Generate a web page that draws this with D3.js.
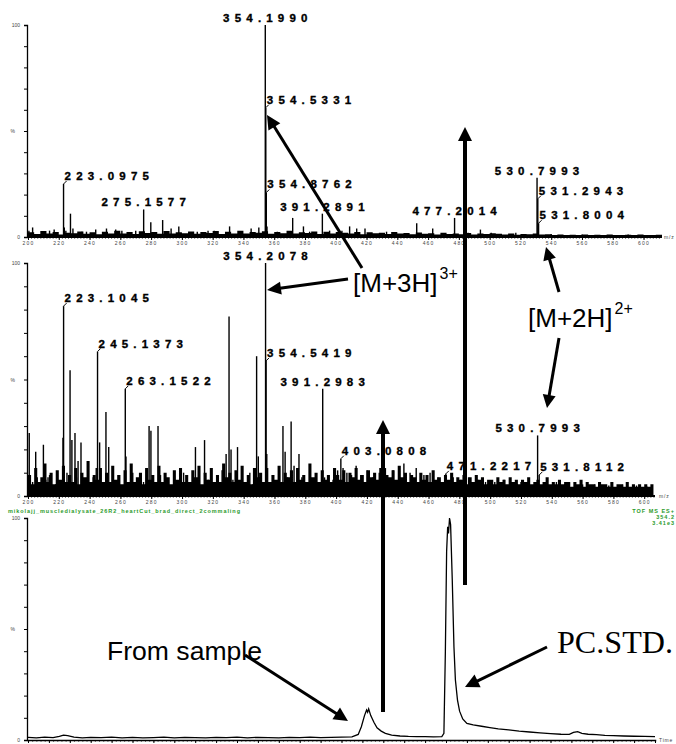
<!DOCTYPE html>
<html>
<head>
<meta charset="utf-8">
<script src="https://cdn.jsdelivr.net/npm/d3@7"></script>
<style>
  body { margin: 0; background: #fff; }
  svg { display: block; font-family: "Liberation Sans", Arial, sans-serif; }
</style>
</head>
<body>
<svg id="chart" width="676" height="744"></svg>
<script>
// ---- top spectrum (m/z, % intensity) ----
const topPeaks = [
  [200.6, 3], [203, 4.5], [210, 2.5], [214, 3], [217, 3.5],
  [223.0975, 25], [223.6, 4.5], [224.6, 3], [227.6, 11], [229.2, 4],
  [235, 2.5], [238, 2.5], [244, 3.5], [251, 4], [257, 3.5], [261, 3],
  [270, 3], [275.1577, 13], [279.8, 7], [287.5, 8], [293, 4], [298, 5],
  [310, 2.5], [317, 3], [321, 3], [331, 5], [345, 4], [350, 4.5],
  [354.1990, 100], [354.5331, 61], [354.8762, 21], [355.3, 5],
  [362, 2.5], [372, 9], [379, 5], [383, 2.5], [391.2891, 11], [396, 3],
  [404, 3], [409, 5], [413.6, 4], [419, 4], [433, 2.5], [452.6, 6.5],
  [463, 4], [477.2014, 9], [486, 2], [494, 3.5], [501, 2], [517, 2],
  [530.7993, 28], [531.2943, 18], [531.8004, 6.5], [540, 1.4], [560, 1.2], [590, 1.2]
];
const topNoiseStart = 200, topNoiseStep = 4;
const topNoise = [
  2.2, 1.4, 2.8, 1.6, 2.4, 1.2, 2.0, 1.8, 2.6, 1.5, 2.2, 1.3, 2.5, 1.7, 2.9, 1.6, 2.3, 1.4, 2.7, 1.9, 2.4, 1.5, 2.8, 1.6, 2.2, 1.8,
  2.6, 1.5, 2.3, 1.9, 2.8, 1.4, 2.5, 1.7, 3.0, 1.6, 2.4, 2.0, 2.7, 1.5, 2.3, 1.8, 2.9, 1.6, 2.2, 1.9, 2.6, 1.4, 2.5, 1.7, 2.3,
  2.0, 1.6, 2.4, 1.3, 2.2, 1.8, 2.0, 1.4, 2.3, 1.6, 1.9, 1.3, 2.1, 1.5, 1.8, 1.2, 2.0, 1.4, 1.7, 1.3, 1.9, 1.2, 1.6, 1.4, 1.8,
  1.5, 1.2, 1.6, 1.1, 1.4, 1.3, 1.7, 1.2, 1.3, 1.0, 1.2, 0.9, 1.1, 1.0, 1.2, 0.9, 1.1, 1.0, 1.2, 0.9, 1.0, 1.1, 0.9, 1.2, 1.0, 0.9, 1.1, 1.0
];
const topLabels = ["223.0975", "275.1577", "354.1990", "354.5331", "354.8762",
  "391.2891", "477.2014", "530.7993", "531.2943", "531.8004"];

// ---- middle spectrum ----
const midPeaks = [
  [200.8, 27], [203, 6], [205, 19], [206, 8], [210, 22], [211.5, 7], [213, 8], [214, 9], [218, 5],
  [222.7, 25], [223.1045, 81.5], [225.3, 10], [226.5, 9], [227.3, 54], [228.5, 24], [230.5, 27],
  [231.5, 8], [232.5, 15], [234.4, 23], [238, 4], [242.3, 8], [244.3, 12], [245.1373, 62],
  [246.5, 23], [248, 6], [250.6, 36], [252.4, 21], [254, 6], [256, 5], [258.6, 9],
  [263.1522, 46], [263.6, 17], [265, 6], [268, 10], [272, 5], [275, 6], [278.6, 30], [279.8, 28],
  [284.4, 30], [286, 9], [290, 5], [296, 6], [301, 10], [303, 5], [308.7, 21], [311, 8],
  [314.6, 24], [317, 7], [322, 5], [326, 11], [328.6, 18], [330.5, 77], [331.8, 20], [333, 7],
  [336, 21], [340, 6], [344, 10], [346, 5], [348.4, 60], [349.5, 17], [352, 6],
  [354.2078, 100], [354.5419, 58], [355, 18], [357, 6], [360, 5], [363, 8], [365.5, 30],
  [366.9, 19], [368.5, 8], [370.8, 32], [372.7, 13], [375.9, 18], [377.8, 8], [381, 6],
  [385, 6], [389, 5], [391.2983, 46], [392.5, 8], [396, 6], [398, 7], [401, 11],
  [403.0808, 16], [404.5, 12], [407, 10], [410, 9], [413, 13], [416, 9], [420, 11], [424, 8],
  [428, 10], [432, 12], [437, 11], [441, 9], [444, 14], [448, 10], [452, 12], [457, 9],
  [461, 10], [466, 8], [471.2217, 9.5], [476, 8], [481, 7], [486, 8], [492, 7], [497, 6],
  [503, 6], [509, 7], [514, 6], [520, 6], [525, 5], [530.7993, 26], [531.8112, 9],
  [536, 5], [543, 6], [551, 5], [560, 5], [568, 5], [577, 4.5], [586, 5], [595, 4.5], [602, 4]
];
const midNoiseStart = 200, midNoiseStep = 2;
const midNoise = [
  9, 5, 12, 6, 8, 14, 6, 10, 5, 11, 7, 13, 6, 9, 6, 12, 5, 10, 8, 15, 6, 9, 7, 12, 6,
  10, 6, 13, 7, 9, 5, 11, 6, 14, 6, 8, 10, 5, 12, 7, 9, 6, 13, 6, 10, 8, 5, 11, 7, 12,
  6, 9, 6, 11, 8, 13, 5, 10, 7, 12, 6, 9, 6, 14, 8, 10, 6, 11, 7, 13, 6, 9, 5, 12, 8,
  10, 6, 12, 6, 9, 7, 13, 6, 10, 8, 11, 6, 12, 7, 9, 6, 14, 8, 10, 6, 11, 7, 9, 6, 12,
  9, 7, 11, 6, 10, 8, 12, 7, 9, 6, 11, 8, 10, 7, 12, 6, 9, 8, 11, 7, 13, 8, 10, 6, 9,
  8, 6, 10, 7, 9, 6, 11, 7, 8, 6, 9, 7, 10, 6, 8, 7, 9, 5, 8, 6, 9, 7, 8, 5, 7,
  7, 5, 8, 6, 7, 5, 8, 6, 7, 5, 7, 6, 8, 5, 6, 7, 5, 6, 8, 5, 6, 5, 7, 5, 6,
  6, 4, 6, 5, 7, 4, 6, 5, 5, 4, 6, 5, 5, 4, 6, 4, 5, 5, 4, 6, 4, 5, 4, 5, 4, 5, 4, 5, 4
];
const midLabels = ["223.1045", "245.1373", "263.1522", "354.2078", "354.5419",
  "391.2983", "403.0808", "471.2217", "530.7993", "531.8112"];

// ---- chromatogram (time, % intensity) ----
const chromatogram = [
  [0.0, 1.2], [0.4, 1.0], [0.8, 1.3], [1.2, 1.1], [1.5, 1.6], [1.7, 2.2], [1.9, 2.0], [2.2, 1.3],
  [2.6, 1.0], [3.0, 1.2], [3.5, 1.1], [4.0, 1.3], [4.5, 1.0], [5.0, 1.2], [5.5, 1.0], [6.0, 1.1],
  [6.5, 1.3], [7.0, 1.0], [7.5, 1.2], [8.0, 1.1], [8.5, 1.0], [9.0, 1.2], [9.5, 1.1], [10.0, 1.3],
  [10.5, 1.0], [11.0, 1.2], [11.5, 1.1], [12.0, 1.0], [12.5, 1.2], [13.0, 1.1], [13.5, 1.3],
  [14.0, 1.1], [14.5, 1.2], [15.0, 1.3], [15.5, 1.4], [15.8, 2.5], [15.95, 6], [16.1, 11],
  [16.2, 13.5], [16.25, 12.5], [16.3, 14], [16.4, 11], [16.55, 8], [16.7, 5.5], [16.9, 4],
  [17.1, 3], [17.4, 2.2], [17.8, 1.8], [18.2, 1.6], [18.6, 1.5], [19.0, 1.5], [19.4, 1.4],
  [19.8, 1.5], [19.9, 3], [19.97, 40], [20.03, 85], [20.08, 96], [20.12, 93], [20.17, 100],
  [20.22, 97], [20.3, 72], [20.38, 42], [20.45, 27], [20.55, 18], [20.65, 13], [20.8, 9.5],
  [21.0, 7.5], [21.3, 6.8], [21.7, 6.2], [22.1, 5.6], [22.5, 5.0], [23.0, 4.6], [23.5, 4.0],
  [24.0, 3.6], [24.5, 3.2], [25.0, 2.9], [25.5, 2.6], [25.9, 2.5], [26.1, 3.4], [26.3, 3.8],
  [26.5, 3.0], [26.8, 2.6], [27.2, 2.4], [27.6, 2.1], [28.0, 2.0], [28.5, 1.8], [29.0, 1.7],
  [29.5, 1.6], [30.0, 1.5]
];

const fileTitle = "mikolajj_muscledialysate_26R2_heartCut_brad_direct_2commaling";
const traceInfo = ["TOF MS ES+", "354.2", "3.41e3"];

// labels drawn centred over their peak (others sit to the right with a small leader)
const centred = new Set(["275.1577", "354.1990", "391.2891", "477.2014", "530.7993",
  "354.2078", "391.2983"]);

const svg = d3.select("#chart");
const tickFont = 5;

function yAxis(g, y, x0) {
  const ax = g.append("g")
    .attr("transform", `translate(${x0},0)`)
    .call(d3.axisLeft(y).tickValues(d3.range(0, 101, 10)).tickSize(3)
      .tickFormat((d) => (d === 100 ? "100" : d === 50 ? "%" : d === 0 ? "0" : "")));
  ax.select(".domain").attr("stroke-width", 1.3);
  ax.selectAll("text").attr("font-size", tickFont).attr("fill", "#444").attr("dx", "-1");
  ax.selectAll(".tick").filter((d) => d === 50).select("text").attr("dx", "-6");
  return ax;
}

function spectrum(p) {
  const g = svg.append("g");
  const x = d3.scaleLinear().domain(p.domain).range([p.x0, p.x1]);
  const y = d3.scaleLinear().domain([0, 100]).range([p.base, p.top]);

  // noise forest
  const area = d3.area()
    .curve(d3.curveStepAfter)
    .x((d, i) => x(p.noiseStart + i * p.noiseStep))
    .y0(p.base)
    .y1((d) => y(d));
  g.append("path").datum(p.noise).attr("d", area).attr("fill", "#000");

  // peaks
  g.selectAll("line.peak").data(p.peaks).enter().append("line")
    .attr("class", "peak")
    .attr("x1", (d) => x(d[0])).attr("x2", (d) => x(d[0]))
    .attr("y1", p.base).attr("y2", (d) => y(d[1]))
    .attr("stroke", "#000").attr("stroke-width", 1.4);

  // x axis
  const minor = g.append("g").attr("transform", `translate(0,${p.base})`)
    .call(d3.axisBottom(x).tickValues(d3.range(200, p.domain[1], 2)).tickSize(1.5).tickFormat(""));
  minor.select(".domain").remove();
  const ax = g.append("g").attr("transform", `translate(0,${p.base})`)
    .call(d3.axisBottom(x).tickValues(d3.range(200, 601, 20)).tickSize(3).tickPadding(1));
  ax.select(".domain").attr("stroke-width", 2).attr("d", `M${p.x0},0H${p.x1}`);
  ax.selectAll("text").attr("font-size", tickFont).attr("fill", "#444")
    .attr("letter-spacing", 1.2).attr("font-family", "Liberation Sans");
  g.append("text").attr("x", p.unitX).attr("y", p.base + 2)
    .attr("font-size", tickFont).attr("letter-spacing", 0.8).attr("fill", "#444").text("m/z");

  yAxis(g, y, p.x0 - 1);

  // peak labels
  const ls = 5.2;
  p.labels.forEach((lab) => {
    const mz = +lab;
    const pk = p.peaks.find((d) => d[0] === mz);
    const px = x(mz), py = y(pk[1]);
    const t = g.append("text")
      .attr("font-size", 11.5).attr("font-weight", "bold")
      .attr("stroke", "#000").attr("stroke-width", 0.35)
      .attr("letter-spacing", ls).attr("fill", "#000").text(lab);
    if (centred.has(lab)) {
      t.attr("x", px + ls / 2).attr("y", py - 3).attr("text-anchor", "middle");
    } else {
      g.append("path").attr("d", `M${px},${py}L${px + 3},${py - 3}`)
        .attr("stroke", "#000").attr("stroke-width", 1).attr("fill", "none");
      t.attr("x", px + 1).attr("y", py - 4);
    }
  });
  return { x, y };
}

spectrum({ domain: [200, 612], x0: 28, x1: 662, top: 25, base: 237, unitX: 664,
  peaks: topPeaks, noise: topNoise, noiseStart: topNoiseStart, noiseStep: topNoiseStep, labels: topLabels });
spectrum({ domain: [200, 607], x0: 28, x1: 655, top: 263, base: 496, unitX: 659,
  peaks: midPeaks, noise: midNoise, noiseStart: midNoiseStart, noiseStep: midNoiseStep, labels: midLabels });

// ---- chromatogram panel ----
const cg = svg.append("g");
const xt = d3.scaleLinear().domain([0, 30]).range([28, 655]);
const yt = d3.scaleLinear().domain([0, 100]).range([740, 518]);
cg.append("path").datum(chromatogram)
  .attr("d", d3.line().x((d) => xt(d[0])).y((d) => yt(d[1])))
  .attr("fill", "none").attr("stroke", "#000").attr("stroke-width", 1.3);
const tminor = cg.append("g").attr("transform", "translate(0,740)")
  .call(d3.axisBottom(xt).ticks(120).tickSize(1.5).tickFormat(""));
tminor.select(".domain").attr("stroke-width", 1.5);
cg.append("g").attr("transform", "translate(0,740)")
  .call(d3.axisBottom(xt).ticks(30).tickSize(3).tickFormat(""))
  .select(".domain").remove();
yAxis(cg, yt, 27);
cg.append("text").attr("x", 659).attr("y", 742).attr("font-size", tickFont)
  .attr("letter-spacing", 0.8).attr("fill", "#444").text("Time");

// green header text
svg.append("text").attr("x", 8).attr("y", 513).attr("font-size", 5.5).attr("font-weight", "bold")
  .attr("fill", "#2a9a2a").attr("textLength", 232).attr("lengthAdjust", "spacing").text(fileTitle);
traceInfo.forEach((s, i) => {
  svg.append("text").attr("x", 675).attr("y", 513 + i * 6).attr("text-anchor", "end")
    .attr("font-size", 5.5).attr("font-weight", "bold").attr("letter-spacing", 1)
    .attr("fill", "#2a9a2a").text(s);
});

// ---- annotations ----
function arrow(x1, y1, x2, y2, w, hl, hw) {
  const dx = x2 - x1, dy = y2 - y1, L = Math.hypot(dx, dy);
  const ux = dx / L, uy = dy / L;
  const bx = x2 - ux * hl, by = y2 - uy * hl;
  svg.append("line").attr("x1", x1).attr("y1", y1).attr("x2", bx + ux).attr("y2", by + uy)
    .attr("stroke", "#000").attr("stroke-width", w);
  svg.append("path")
    .attr("d", `M${x2},${y2}L${bx - uy * hw},${by + ux * hw}L${bx + uy * hw},${by - ux * hw}Z`)
    .attr("fill", "#000");
}
arrow(362, 268, 267, 115, 3, 14, 7);
arrow(348, 279, 267, 290, 3, 14, 6.5);
arrow(559, 292, 546, 247, 3, 13, 6.5);
arrow(559, 338, 547, 408, 3, 13, 6.5);
arrow(465, 585, 465, 127, 4, 14, 7);
arrow(383, 712, 383, 420, 4, 14, 7);
arrow(245, 655, 348, 721, 3, 14, 7);
arrow(547, 647, 465, 687, 3, 14, 7);

function ion(x, y, main, sup) {
  const t = svg.append("text").attr("x", x).attr("y", y).attr("font-size", 26).text(main);
  const w = t.node().getComputedTextLength();
  svg.append("text").attr("x", x + w + 2).attr("y", y - 13).attr("font-size", 16).text(sup);
}
ion(353, 292, "[M+3H]", "3+");
ion(528, 327, "[M+2H]", "2+");

svg.append("text").attr("x", 107).attr("y", 660).attr("font-size", 25)
  .attr("textLength", 155).attr("lengthAdjust", "spacingAndGlyphs").text("From sample");
svg.append("text").attr("x", 557).attr("y", 653).attr("font-size", 31)
  .attr("font-family", "Liberation Serif, Times New Roman, serif")
  .attr("textLength", 116).attr("lengthAdjust", "spacingAndGlyphs").text("PC.STD.");
</script>
</body>
</html>
